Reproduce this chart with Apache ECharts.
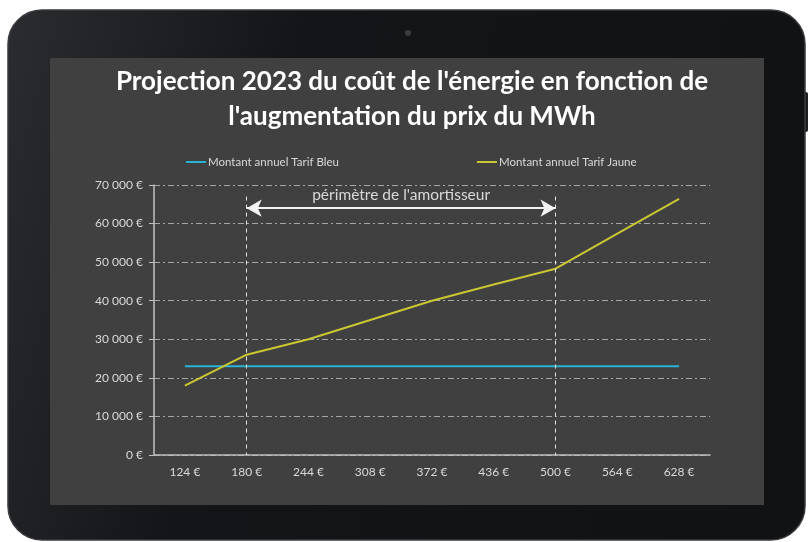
<!DOCTYPE html>
<html>
<head>
<meta charset="utf-8">
<script src="https://cdn.jsdelivr.net/npm/echarts@6/dist/echarts.min.js"></script>
<style>
  html, body { margin: 0; padding: 0; background: #ffffff; }
  #chart { width: 810px; height: 542px; }
</style>
</head>
<body>
<div id="chart"></div>
<script>
// Prix du MWh (catégories)
const prixMWh = ["124 €", "180 €", "244 €", "308 €", "372 €", "436 €", "500 €", "564 €", "628 €"];
// Montants annuels
const tarifBleu = [23000, 23000, 23000, 23000, 23000, 23000, 23000, 23000, 23000];
const tarifJaune = [18000, 26000, 30000, 35000, 40000, 44200, 48300, 57400, 66400];
// bornes du périmètre de l'amortisseur
const amortStart = "180 €";
const amortEnd = "500 €";

const textGrey = "#d9d9d9";
const fontFam = "Lato, 'Open Sans', sans-serif";

const fmtEuro = v => String(v).replace(/\B(?=(\d{3})+(?!\d))/g, " ") + " €";

const chart = echarts.init(document.getElementById("chart"), null, { renderer: "canvas" });

const option = {
  backgroundColor: "#ffffff",
  animation: false,
  textStyle: { fontFamily: fontFam },
  // tablette + écran
  graphic: [
    {
      type: "rect", z: -11,
      shape: { x: 800, y: 92, width: 8, height: 40, r: 2 },
      style: { fill: "#1c1d20" }
    },
    {
      type: "rect", z: -10,
      shape: { x: 8, y: 10, width: 797, height: 530, r: 34 },
      style: {
        fill: new echarts.graphic.LinearGradient(0, 0, 1, 0.4, [
          { offset: 0, color: "#2a2c30" },
          { offset: 0.35, color: "#141518" },
          { offset: 1, color: "#111214" }
        ]),
        stroke: "#3a3b3e", lineWidth: 1.5
      }
    },
    {
      type: "circle", z: -9,
      shape: { cx: 408, cy: 33, r: 3 },
      style: { fill: "#3a3c40" }
    },
    {
      type: "rect", z: -8,
      shape: { x: 50, y: 58, width: 714, height: 447 },
      style: { fill: "#404040" }
    }
  ],
  title: {
    text: "Projection 2023 du coût de l'énergie en fonction de\nl'augmentation du prix du MWh",
    left: 407, top: 59, textAlign: "center",
    textStyle: {
      color: "#ffffff", fontSize: 26, fontWeight: "bold",
      fontFamily: fontFam, lineHeight: 35
    }
  },
  legend: {
    top: 151, left: 181, itemGap: 138,
    itemWidth: 20, itemHeight: 2, icon: "rect",
    textStyle: { color: textGrey, fontSize: 11.5, fontFamily: fontFam, padding: [0, 0, 0, -3] },
    data: ["Montant annuel Tarif Bleu", "Montant annuel Tarif Jaune"]
  },
  grid: { left: 154, right: 100, top: 185, bottom: 87, containLabel: false },
  xAxis: {
    type: "category",
    data: prixMWh,
    boundaryGap: true,
    axisLine: { lineStyle: { color: "#bfbfbf", width: 1.5 } },
    axisTick: { alignWithLabel: true, length: 4, lineStyle: { color: "#bfbfbf" } },
    axisLabel: { color: textGrey, fontSize: 12, margin: 11, fontFamily: fontFam },
    splitLine: { show: false }
  },
  yAxis: {
    type: "value",
    min: 0, max: 70000, interval: 10000,
    axisLine: { show: true, lineStyle: { color: "#bfbfbf", width: 1.5 } },
    axisTick: { show: true, length: 5, lineStyle: { color: "#bfbfbf" } },
    axisLabel: { color: textGrey, fontSize: 12, margin: 11, formatter: fmtEuro, fontFamily: fontFam },
    splitLine: { lineStyle: { color: "#a6a6a6", width: 1, type: [6, 3, 2, 3] } }
  },
  series: [
    {
      name: "Montant annuel Tarif Bleu",
      type: "line",
      data: tarifBleu,
      showSymbol: false,
      itemStyle: { color: "#2bb3d3" },
      lineStyle: { color: "#2bb3d3", width: 2 }
    },
    {
      name: "Montant annuel Tarif Jaune",
      type: "line",
      data: tarifJaune,
      showSymbol: false,
      itemStyle: { color: "#c9c832" },
      lineStyle: { color: "#c9c832", width: 2 },
      markLine: {
        silent: true,
        animation: false,
        data: [
          [
            { coord: [amortStart, 67000], symbol: "none", lineStyle: { color: "#e6e6e6", type: [4, 4], width: 1 } },
            { coord: [amortStart, 0], symbol: "none" }
          ],
          [
            { coord: [amortEnd, 67000], symbol: "none", lineStyle: { color: "#e6e6e6", type: [4, 4], width: 1 } },
            { coord: [amortEnd, 0], symbol: "none" }
          ],
          [
            {
              coord: [amortStart, 64000], symbol: "arrow", symbolSize: [13, 15],
              lineStyle: { color: "#f2f2f2", type: "solid", width: 2 },
              label: {
                show: true, position: "insideMiddleTop", distance: 5,
                formatter: "périmètre de l'amortisseur",
                color: textGrey, fontSize: 15.5, fontFamily: fontFam
              }
            },
            { coord: [amortEnd, 64000], symbol: "arrow", symbolSize: [13, 15] }
          ]
        ],
        label: { show: false }
      }
    }
  ]
};

chart.setOption(option);
</script>
</body>
</html>
